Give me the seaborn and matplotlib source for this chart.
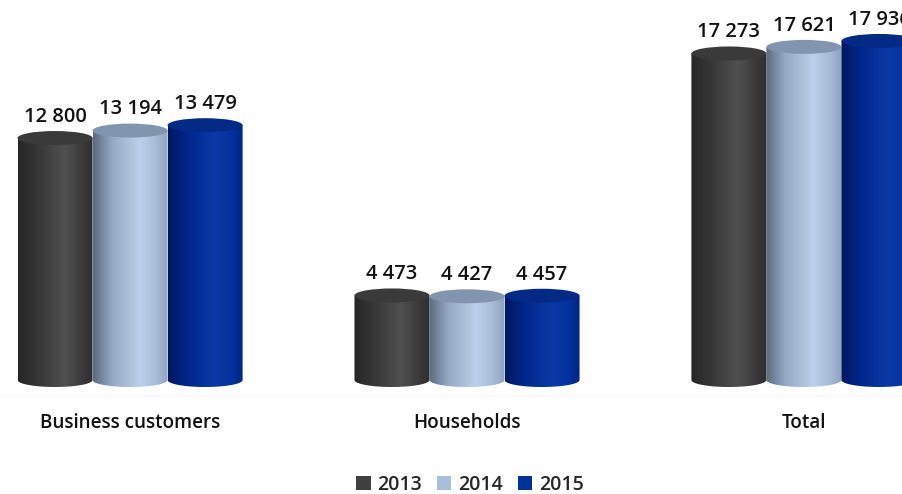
import numpy as np
import pandas as pd
import matplotlib
matplotlib.use("Agg")
import matplotlib.pyplot as plt
import seaborn as sns
from matplotlib.colors import LinearSegmentedColormap
from matplotlib.patches import Ellipse, PathPatch, Rectangle
from matplotlib.path import Path

# Data
categories = ["Business customers", "Households", "Total"]
years = ["2013", "2014", "2015"]
values_2013 = [12800, 4473, 17273]
values_2014 = [13194, 4427, 17621]
values_2015 = [13479, 4457, 17936]

legend_colors = ["#404040", "#a9bedb", "#003399"]
# side shading of each cylinder: left edge -> highlight -> right edge
body_colors = [
    ["#262626", "#363636", "#505050", "#3a3a3a", "#2e2e2e"],
    ["#5b6a80", "#95a9c3", "#bcd0ea", "#a6bad6", "#8ea2bd"],
    ["#001860", "#00268a", "#0a3aa8", "#03319c", "#00257f"],
]
top_colors = ["#3a3a3a", "#8195ae", "#052a86"]

df = pd.DataFrame({
    "category": categories * 3,
    "year": [y for y in years for _ in categories],
    "value": values_2013 + values_2014 + values_2015,
})

sns.set_theme(style="white")
plt.rcParams["font.family"] = ["Open Sans", "DejaVu Sans"]

fig = plt.figure(figsize=(9.02, 4.94), dpi=100)
ax = fig.add_axes([0, 94 / 494, 1, 400 / 494])

sns.barplot(data=df, x="category", y="value", hue="year", order=categories,
            hue_order=years, palette=legend_colors, width=0.668, gap=0,
            ax=ax, legend=False)

units_per_px = 52.9
ax.set_xlim(-0.386, 2.291)
ax.set_ylim(-20 * units_per_px, 380 * units_per_px)
ell_h = 14 * units_per_px

ax.axhline(-16 * units_per_px, color="#fafafa", lw=3, zorder=0)

patches = list(ax.patches)
for i, p in enumerate(patches):
    yi = i // len(categories)
    x0, w, h = p.get_x(), p.get_width(), p.get_height()
    p.set_visible(False)
    cx = x0 + w / 2
    # outline: straight sides with a rounded bottom
    t = np.linspace(np.pi, 2 * np.pi, 60)
    bx = cx + (w / 2) * np.cos(t)
    by = (ell_h / 2) * np.sin(t)
    verts = [(x0, h)] + list(zip(bx, by)) + [(x0 + w, h), (x0, h)]
    codes = [Path.MOVETO] + [Path.LINETO] * (len(verts) - 2) + [Path.CLOSEPOLY]
    shape = PathPatch(Path(verts, codes), facecolor="none", edgecolor="none")
    ax.add_patch(shape)
    cmap = LinearSegmentedColormap.from_list(
        f"c{yi}", list(zip([0, 0.25, 0.62, 0.85, 1.0], body_colors[yi])))
    grad = np.linspace(0, 1, 256).reshape(1, -1)
    im = ax.imshow(grad, cmap=cmap, aspect="auto",
                   extent=[x0, x0 + w, -ell_h / 2, h], zorder=2,
                   interpolation="bicubic")
    im.set_clip_path(shape)
    ax.add_patch(Ellipse((cx, h), w, ell_h, facecolor=top_colors[yi],
                         edgecolor="none", zorder=3))
    ax.annotate(f"{int(h):,}".replace(",", " "), (cx, h),
                xytext=(0, 8), textcoords="offset points",
                ha="center", va="bottom", fontsize=14.5, fontweight="semibold",
                color="#111111")

ax.set_xlabel("")
ax.set_ylabel("")
ax.set_yticks([])
ax.tick_params(axis="x", length=0, pad=9, labelsize=13.6)
for lbl in ax.get_xticklabels():
    lbl.set_fontweight("semibold")
    lbl.set_color("#111111")
sns.despine(ax=ax, left=True, bottom=True)

handles = [Rectangle((0, 0), 1, 1, facecolor=c, edgecolor="none")
           for c in legend_colors]
fig.legend(handles, years, loc="center", bbox_to_anchor=(0.521, 0.018),
           ncol=3, frameon=False, handlelength=0.75, handleheight=0.75,
           handletextpad=0.35, columnspacing=0.75,
           prop={"size": 14, "weight": "semibold"})

fig.savefig("out.png", dpi=100)
